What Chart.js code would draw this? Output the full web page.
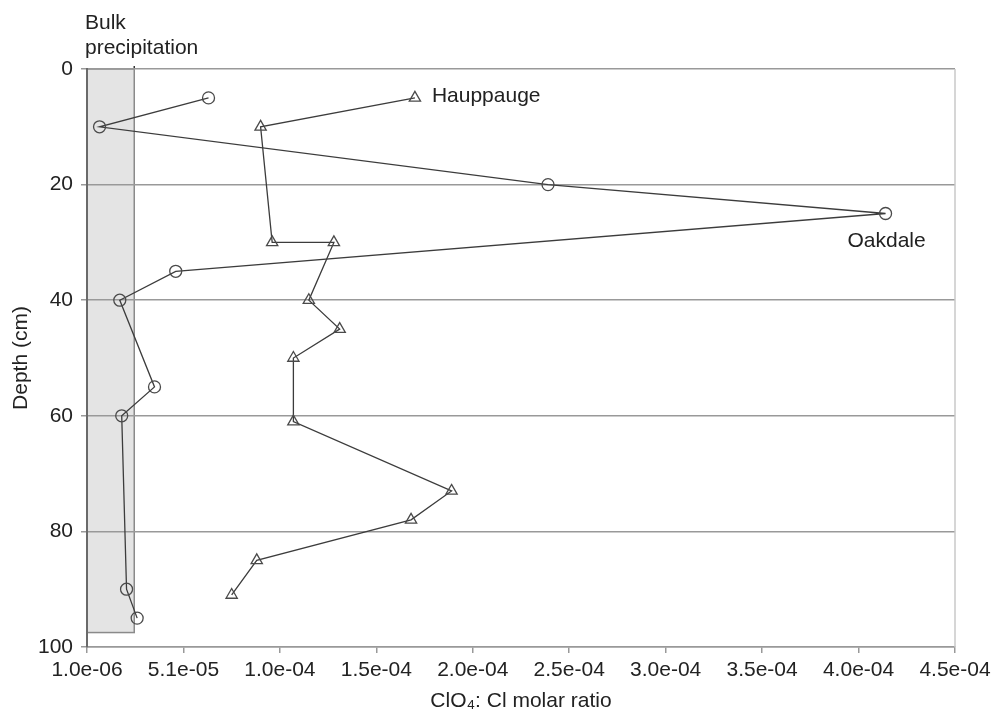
<!DOCTYPE html>
<html>
<head>
<meta charset="utf-8">
<script src="https://cdn.jsdelivr.net/npm/chart.js@4/dist/chart.umd.min.js"></script>
<style>
  html, body { margin: 0; padding: 0; background: #fff; }
  #chart { display: block; }
</style>
</head>
<body>
<canvas id="chart" width="991" height="715"></canvas>
<script>
// ── DATA ──
const oakdaleDepth   = [5, 10, 20, 25, 35, 40, 55, 60, 90, 95];
const oakdaleRatio   = [6.4e-5, 7.5e-6, 2.40e-4, 4.15e-4, 4.7e-5, 1.8e-5, 3.6e-5, 1.9e-5, 2.15e-5, 2.7e-5];

const hauppaugeDepth = [5, 10, 30, 30, 40, 45, 50, 61, 73, 78, 85, 91];
const hauppaugeRatio = [1.71e-4, 9.1e-5, 9.7e-5, 1.29e-4, 1.16e-4, 1.32e-4, 1.08e-4, 1.08e-4, 1.9e-4, 1.69e-4, 8.9e-5, 7.6e-5];

const xTickValues = [1.0e-6, 5.1e-5, 1.01e-4, 1.51e-4, 2.01e-4, 2.51e-4, 3.01e-4, 3.51e-4, 4.01e-4, 4.51e-4];
const xTickLabels = ['1.0e-06', '5.1e-05', '1.0e-04', '1.5e-04', '2.0e-04',
                     '2.5e-04', '3.0e-04', '3.5e-04', '4.0e-04', '4.5e-04'];

// bulk precipitation band (ratio range, max depth)
const bulkRatioRange = [1.0e-6, 2.55e-5];
const bulkDepthMax   = 97.5;

// ── COLORS ──
const INK   = '#222';
const LINE  = '#3c3c3c';
const GRID  = '#999';
const FONT  = "'Liberation Sans', Arial, Helvetica, sans-serif";

Chart.defaults.font.family = FONT;
Chart.defaults.font.size   = 21;
Chart.defaults.color       = INK;

const toPoints = (xs, ys) => xs.map((x, i) => ({ x, y: ys[i] }));

// ── PLUGIN: band, border, labels ──
const decorPlugin = {
  id: 'decor',
  beforeDraw(chart) {
    const { ctx, scales: { x, y } } = chart;
    const x0 = x.getPixelForValue(bulkRatioRange[0]);
    const x1 = x.getPixelForValue(bulkRatioRange[1]);
    const y0 = y.getPixelForValue(0);
    const y1 = y.getPixelForValue(bulkDepthMax);
    ctx.save();
    ctx.fillStyle = '#e4e4e4';
    ctx.fillRect(x0, y0, x1 - x0, y1 - y0);
    ctx.strokeStyle = '#8a8a8a';
    ctx.lineWidth = 1.5;
    ctx.strokeRect(x0, y0, x1 - x0, y1 - y0);
    ctx.beginPath();
    ctx.moveTo(x1, y0 - 3);
    ctx.lineTo(x1, y0);
    ctx.strokeStyle = '#333';
    ctx.stroke();
    ctx.restore();
  },
  afterDraw(chart) {
    const { ctx, chartArea, scales: { x, y } } = chart;
    ctx.save();
    // right border
    ctx.strokeStyle = '#c8c8c8';
    ctx.lineWidth = 1.5;
    ctx.beginPath();
    ctx.moveTo(chartArea.right, chartArea.top);
    ctx.lineTo(chartArea.right, chartArea.bottom);
    ctx.stroke();

    ctx.fillStyle = INK;
    ctx.font = `21px ${FONT}`;
    // Bulk precipitation
    ctx.textAlign = 'left';
    ctx.textBaseline = 'alphabetic';
    const bx = x.getPixelForValue(bulkRatioRange[0]) - 2;
    ctx.fillText('Bulk', bx, chartArea.top - 40);
    ctx.fillText('precipitation', bx, chartArea.top - 15);
    // Hauppauge
    ctx.textBaseline = 'middle';
    ctx.fillText('Hauppauge',
      x.getPixelForValue(hauppaugeRatio[0]) + 17,
      y.getPixelForValue(hauppaugeDepth[0]) - 2);
    // Oakdale
    ctx.textAlign = 'center';
    ctx.fillText('Oakdale',
      x.getPixelForValue(oakdaleRatio[3]) + 1,
      y.getPixelForValue(oakdaleDepth[3]) + 28);
    ctx.restore();
  },
};

new Chart(document.getElementById('chart'), {
  type: 'scatter',
  data: {
    datasets: [
      {
        label: 'Oakdale',
        data: toPoints(oakdaleRatio, oakdaleDepth),
        showLine: true,
        borderColor: LINE,
        borderWidth: 1.3,
        pointStyle: 'circle',
        pointRadius: 6,
        pointBackgroundColor: 'rgba(255,255,255,0)',
        pointBorderColor: '#4a4a4a',
        pointBorderWidth: 1.3,
      },
      {
        label: 'Hauppauge',
        data: toPoints(hauppaugeRatio, hauppaugeDepth),
        showLine: true,
        borderColor: LINE,
        borderWidth: 1.3,
        pointStyle: 'triangle',
        pointRadius: 6.5,
        pointBackgroundColor: 'rgba(255,255,255,0)',
        pointBorderColor: '#4a4a4a',
        pointBorderWidth: 1.3,
      },
    ],
  },
  options: {
    responsive: false,
    animation: false,
    layout: { padding: { top: 69, right: 36, left: 0, bottom: 0 } },
    plugins: {
      legend:  { display: false },
      tooltip: { enabled: false },
    },
    scales: {
      x: {
        type: 'linear',
        position: 'bottom',
        min: xTickValues[0],
        max: xTickValues[xTickValues.length - 1],
        afterBuildTicks: s => { s.ticks = xTickValues.map(v => ({ value: v })); },
        afterFit: s => { s.height = 68; s.paddingLeft = 0; s.paddingRight = 0; },
        ticks: {
          color: INK,
          padding: 5,
          maxRotation: 0,
          autoSkip: false,
          callback: (v, i) => xTickLabels[i],
        },
        grid: {
          drawOnChartArea: false,
          drawTicks: true,
          tickLength: 6,
          color: GRID,
          lineWidth: 1.5,
        },
        border: { color: GRID, width: 1.5 },
        title: {
          display: true,
          text: 'ClO₄: Cl molar ratio',
          color: INK,
          font: { size: 21 },
          padding: { top: 0, bottom: 1 },
        },
      },
      y: {
        type: 'linear',
        reverse: true,
        min: 0,
        max: 100,
        afterFit: s => { s.width = 87; },
        ticks: { stepSize: 20, padding: 8, color: INK },
        grid: {
          color: GRID,
          lineWidth: 1.5,
          tickLength: 6,
        },
        border: { color: '#6a6a6a', width: 2 },
        title: {
          display: true,
          text: 'Depth (cm)',
          color: INK,
          font: { size: 21 },
          padding: { top: 9, bottom: 0 },
        },
      },
    },
  },
  plugins: [decorPlugin],
});
</script>
</body>
</html>
